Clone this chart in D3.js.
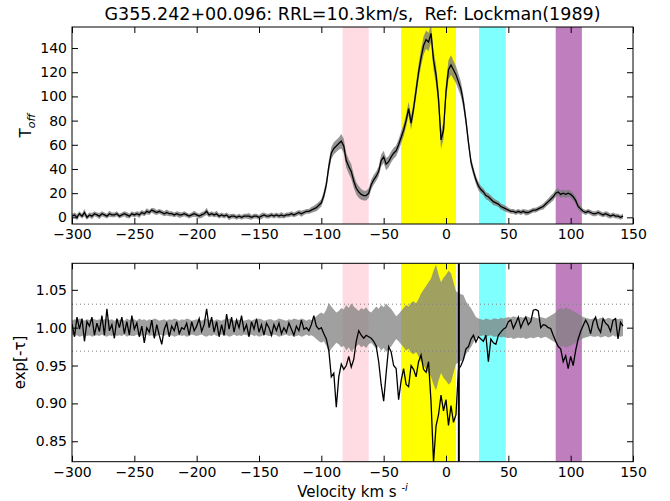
<!DOCTYPE html>
<html><head><meta charset="utf-8">
<script src="https://cdn.jsdelivr.net/npm/d3@7"></script>
<style>
html,body{margin:0;padding:0;background:#fff;}
svg{display:block;font-family:"DejaVu Sans",sans-serif;}
</style></head>
<body><svg id="c" width="670" height="501"></svg>
<script>
// ---------------- data ----------------
const titleText = "G355.242+00.096: RRL=10.3km/s,  Ref: Lockman(1989)";
const rrlVelocity = 10.3;
// channel grid (km/s), one channel every 2 km/s from -300 to 142
const velocity = d3.range(-300, 143, 2);
// emission spectrum T_off
const toff = [
 1,2,0,3,1,4,0,2,1,3,
 2,1,3,2,1,3,2,2,3,1,
 2,3,2,1,3,2,3,2,4,3,
 5,4,6,5,4,5,4,3,4,3,
 3,2,3,2,2,3,2,1,2,3,
 2,1,2,3,5,2,3,2,3,1,
 2,1,2,0,1,1,0,1,0,1,
 1,1,0,1,1,0,1,2,1,1,
 2,1,2,1,2,1,2,2,3,2,
 3,4,3,4,5,5,6,7,8,10,
 12,18,27,42,53,57,59,61,63,59,
 47,42,38,30,24,21,19,18,18,20,
 27,31,34,38,47,50,44,46,50,53,
 55,60,66,72,80,90,78,90,105,120,
 132,142,147,145,152,130,118,98,64,72,
 104,122,126,122,118,112,106,95,80,62,
 46,38,31,26,23,21,18,17,15,13,
 12,11,9,8,7,6,5,5,4,5,
 4,5,4,4,5,6,6,7,8,9,
 11,13,15,17,20,21,19,20,19,20,
 19,17,14,9,7,5,4,5,4,3,
 3,4,3,2,3,2,1,2,1,1,
 0,1
];
// uncertainty (half width of grey envelope) of T_off
const toffErr = [
 2,2,2.5,2,2,3,2,2,2.5,2,
 2,2.5,2,2,2,2.5,2,2,2,2,
 2,2,2.5,2,2,2,2,2.5,2,2,
 2.5,2,2,2.5,2,2,2,2,2.5,2,
 2,2,2,2.5,2,2,2,2,2,2.5,
 2,2,2.5,2,3,2,2,2,2.5,2,
 2,2,2,2.5,2,2,2,2,2,2,
 2,2.5,2,2,2,2,2.5,2,2,2,
 2,2,2,2,2.5,2,2,2,2,2,
 2,2,2.5,2,2,2,2.5,2.5,3,3,
 3,3.5,4,5,5,5,5,5,6,6,
 6,6,6,5.5,5,5,4.5,4,4,4,
 4,4,4,4,5,5,5,4.5,4.5,4.5,
 4.5,4.5,5,5,5,5.5,5.5,5.5,6,6.5,
 7,7.5,7.5,7.5,7.5,8,8,8,7.5,7,
 7.5,8,8,7.5,7,6.5,6,5.5,5,4.5,
 4,3.5,3.5,3.5,3,3,3,3,3,3,
 2.5,2.5,2.5,2.5,2.5,2,2,2,2,2,
 2,2,2.5,2,2,2,2,2,2,2.5,
 2.5,2.5,3,3,3,3,3,3,3,3,
 3,3,3,2.5,2.5,2,2,2,2,2,
 2,2,2,2,2,2.5,2,2,2,2,
 2,2
];
// absorption spectrum exp[-tau]
const expTau = [
 1.005,0.988,1.014,0.998,1.012,0.982,1.008,1.002,1.014,0.990,
 1.006,0.995,1.016,0.990,1.025,0.996,1.004,0.986,1.012,1.000,
 1.014,0.992,1.008,0.990,1.016,0.998,1.006,0.988,1.002,0.980,
 1.000,0.994,1.010,0.986,1.004,0.990,0.978,0.998,1.006,0.988,
 1.002,0.996,1.008,0.992,1.000,0.998,1.006,0.990,1.008,0.996,
 1.002,1.012,0.995,1.004,1.025,1.000,1.014,0.994,1.008,0.988,
 1.004,0.990,1.018,0.998,1.014,0.994,1.010,1.000,1.016,0.996,
 1.004,0.988,1.008,0.998,1.012,0.994,1.004,0.990,1.006,1.000,
 0.990,1.004,0.996,1.006,0.992,1.000,0.994,1.006,0.998,0.990,
 1.002,0.996,1.010,0.998,1.000,0.996,1.004,1.016,1.002,0.998,
 1.000,0.992,0.985,0.970,0.935,0.940,0.895,0.935,0.952,0.945,
 0.950,0.962,0.948,0.958,0.982,0.996,0.990,0.986,0.990,0.988,
 0.986,0.982,0.976,0.955,0.925,0.903,0.940,0.975,0.968,0.950,
 0.946,0.905,0.930,0.946,0.925,0.922,0.950,0.945,0.935,0.955,
 0.964,0.945,0.941,0.955,0.902,0.822,0.870,0.885,0.911,0.890,
 0.905,0.871,0.897,0.875,0.885,0.945,0.950,0.958,0.972,0.975,
 0.985,0.990,0.981,0.988,0.985,0.982,0.990,0.955,0.985,0.980,
 0.978,0.990,0.994,0.998,1.000,1.008,1.010,0.999,1.006,1.014,
 1.000,1.008,1.014,1.004,1.008,1.023,1.024,1.022,1.000,1.004,
 1.003,1.000,0.999,0.990,0.982,0.975,0.972,0.955,0.963,0.946,
 0.962,0.950,0.970,0.985,0.995,1.003,1.010,1.004,0.992,1.008,
 1.014,1.000,0.994,1.012,1.006,1.003,0.995,1.010,1.012,0.985,
 1.007,1.002
];
// noise envelope half width of exp[-tau]
const expErr = [
 .009,.011,.010,.012,.011,.009,.011,.010,.012,.011,
 .010,.011,.009,.011,.012,.010,.011,.009,.011,.010,
 .011,.009,.012,.010,.011,.011,.009,.012,.010,.011,
 .009,.011,.010,.012,.011,.009,.010,.011,.009,.011,
 .010,.012,.011,.009,.011,.010,.012,.011,.009,.010,
 .011,.010,.009,.011,.012,.010,.011,.009,.011,.010,
 .009,.011,.010,.012,.011,.009,.011,.010,.011,.009,
 .010,.011,.009,.011,.010,.012,.011,.009,.010,.011,
 .011,.009,.010,.012,.011,.010,.009,.011,.010,.012,
 .011,.010,.012,.011,.009,.011,.010,.012,.015,.018,
 .020,.018,.024,.033,.028,.024,.020,.022,.026,.024,
 .030,.026,.032,.028,.025,.022,.026,.024,.027,.022,
 .020,.024,.028,.025,.030,.027,.032,.028,.025,.020,
 .015,.018,.022,.026,.030,.028,.033,.035,.032,.038,
 .045,.050,.055,.060,.065,.075,.083,.070,.060,.066,
 .070,.075,.072,.060,.048,.046,.044,.043,.035,.030,
 .026,.020,.014,.012,.011,.010,.012,.011,.010,.012,
 .012,.011,.013,.012,.013,.014,.013,.015,.014,.013,
 .014,.013,.015,.014,.013,.014,.013,.012,.014,.013,
 .012,.014,.016,.018,.020,.024,.026,.024,.027,.025,
 .024,.022,.020,.018,.016,.014,.013,.012,.011,.012,
 .012,.011,.013,.012,.011,.013,.012,.010,.012,.011,
 .012,.011
];
// 3-sigma levels on exp[-tau]
const sigmaLevels = [1.031, 0.969];
// velocity ranges of the shaded components
const bandStart = [-83, -36, 26.5, 88];
const bandEnd   = [-62,   8, 48, 109];
// ticks
const xTicks = [-300,-250,-200,-150,-100,-50,0,50,100,150];
const yTopTicks = [0,20,40,60,80,100,120,140];
const yBotTicks = [0.85,0.90,0.95,1.00,1.05];

// ---------------- drawing ----------------
const bandColors = ["#ffdce3", "#ffff00", "#80ffff", "#bf7fbf"];
const svg = d3.select("#c");
const L = 72, R = 633;
const x = d3.scaleLinear().domain([-300,150]).range([L,R]);
const topBox = {t:27, b:224};
const botBox = {t:263.3, b:461.7};
const yT = d3.scaleLinear().domain([-5.5,157.4]).range([topBox.b, topBox.t]);
const yB = d3.scaleLinear().domain([0.823,1.085]).range([botBox.b, botBox.t]);

const defs = svg.append("defs");
[["clipTop",topBox],["clipBot",botBox]].forEach(([id,b])=>{
  defs.append("clipPath").attr("id",id).append("rect")
    .attr("x",L).attr("y",b.t).attr("width",R-L).attr("height",b.b-b.t);
});

const rows = velocity.map((v,i)=>({v, t:toff[i], te:toffErr[i], e:expTau[i], ee:expErr[i]}));

function panel(box, clipId){
  const pg = svg.append("g").attr("clip-path",`url(#${clipId})`);
  bandStart.forEach((s,i)=>{
    pg.append("rect").attr("x",x(s)).attr("width",x(bandEnd[i])-x(s))
      .attr("y",box.t).attr("height",box.b-box.t).attr("fill",bandColors[i]);
  });
  return pg;
}

// top panel
const topPg = panel(topBox, "clipTop");
topPg.append("path").datum(rows)
  .attr("d", d3.area().x(d=>x(d.v)).y0(d=>yT(d.t-d.te)).y1(d=>yT(d.t+d.te)))
  .attr("fill","#7a7a7a").attr("fill-opacity",0.8);
topPg.append("path").datum(rows)
  .attr("d", d3.line().x(d=>x(d.v)).y(d=>yT(d.t)))
  .attr("fill","none").attr("stroke","#000").attr("stroke-width",1.3);

// bottom panel
const botPg = panel(botBox, "clipBot");
sigmaLevels.forEach(s=>{
  botPg.append("line").attr("x1",L).attr("x2",R).attr("y1",yB(s)).attr("y2",yB(s))
    .attr("stroke","#808080").attr("stroke-width",1).attr("stroke-dasharray","1,3");
});
botPg.append("path").datum(rows)
  .attr("d", d3.area().x(d=>x(d.v)).y0(d=>yB(1-d.ee)).y1(d=>yB(1+d.ee)))
  .attr("fill","#808080").attr("fill-opacity",0.75);
botPg.append("path").datum(rows)
  .attr("d", d3.line().x(d=>x(d.v)).y(d=>yB(d.e)))
  .attr("fill","none").attr("stroke","#000").attr("stroke-width",1.3);
botPg.append("line").attr("x1",x(rrlVelocity)).attr("x2",x(rrlVelocity))
  .attr("y1",botBox.t).attr("y2",botBox.b).attr("stroke","#000").attr("stroke-width",2);

// axes
function axes(box, y, yTicks, fmt){
  const fs = 14;
  const ax = svg.append("g").attr("transform",`translate(0,${box.b})`)
    .call(d3.axisBottom(x).tickValues(xTicks).tickSize(-6).tickPadding(5).tickFormat(d=>String(d).replace("-","\u2212")));
  const at = svg.append("g").attr("transform",`translate(0,${box.t})`)
    .call(d3.axisTop(x).tickValues(xTicks).tickSize(-6).tickFormat(""));
  const al = svg.append("g").attr("transform",`translate(${L},0)`)
    .call(d3.axisLeft(y).tickValues(yTicks).tickSize(-6).tickPadding(5).tickFormat(fmt));
  const ar = svg.append("g").attr("transform",`translate(${R},0)`)
    .call(d3.axisRight(y).tickValues(yTicks).tickSize(-6).tickFormat(""));
  [ax,at,al,ar].forEach(a=>{
    a.select(".domain").remove();
    a.selectAll("line").attr("stroke","#000").attr("stroke-width",1);
    a.selectAll("text").attr("font-size",fs).attr("fill","#000").attr("font-family","DejaVu Sans");
  });
  svg.append("rect").attr("x",L).attr("y",box.t).attr("width",R-L).attr("height",box.b-box.t)
    .attr("fill","none").attr("stroke","#000").attr("stroke-width",1);
}
axes(topBox, yT, yTopTicks, d=>d3.format("d")(d));
axes(botBox, yB, yBotTicks, d=>d3.format(".2f")(d));

// title
svg.append("text").attr("x",(L+R)/2).attr("y",20).attr("text-anchor","middle")
  .attr("font-size",17.5).attr("fill","#000").style("white-space","pre").text(titleText);

// y labels
const yl1 = svg.append("text").attr("transform",`translate(31,${(topBox.t+topBox.b)/2}) rotate(-90)`)
  .attr("text-anchor","middle").attr("font-size",15).attr("fill","#000");
yl1.append("tspan").text("T");
yl1.append("tspan").attr("font-size",11).attr("font-style","italic").attr("dy",4).text("off");

svg.append("text").attr("transform",`translate(25,${(botBox.t+botBox.b)/2}) rotate(-90)`)
  .attr("text-anchor","middle").attr("font-size",15).attr("fill","#000").text("exp[-\u03c4]");

// x label
const xl = svg.append("text").attr("x",(L+R)/2).attr("y",497).attr("text-anchor","middle")
  .attr("font-size",15).attr("fill","#000");
xl.append("tspan").text("Velocity km s ");
xl.append("tspan").attr("font-size",10).attr("dy",-6).text("-");
xl.append("tspan").attr("font-size",10).attr("font-style","italic").text("i");
</script></body></html>
